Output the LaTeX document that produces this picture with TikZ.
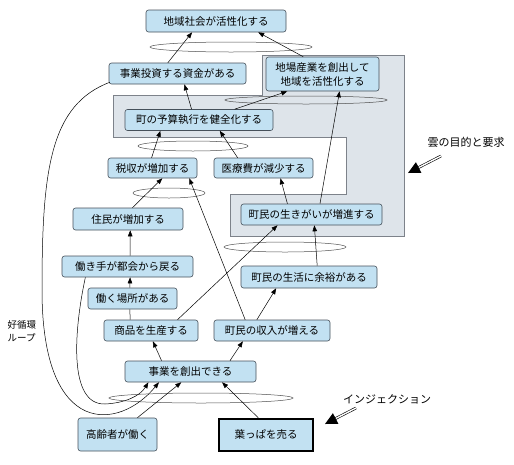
\documentclass[tikz,border=0pt]{standalone}
\usepackage{fontspec}
\setmainfont{Noto Sans CJK JP}
\usepackage{tikz}
\usetikzlibrary{calc, arrows.meta}
\usepackage{tkz-euclide}

\definecolor{boxblue}{RGB}{194,225,242}
\definecolor{boxline}{RGB}{70,80,90}
\definecolor{cloudgray}{RGB}{222,228,234}
\definecolor{cloudline}{RGB}{125,130,138}
\definecolor{ringgray}{RGB}{80,80,80}

\tikzset{
  pbox/.style={draw=boxline, fill=boxblue, rounded corners=2.5pt, inner sep=0pt,
    font=\fontsize{10.5}{14}\selectfont, align=center, line width=0.6pt},
  arr/.style={-{Triangle[length=6pt,width=4.5pt]}, line width=0.5pt},
  ring/.style={draw=ringgray, line width=0.5pt},
  region/.style={fill=cloudgray, draw=cloudline, line width=0.6pt},
  dblarr/.style={double, double distance=1.4pt, line width=0.6pt},
  note/.style={font=\fontsize{11}{13}\selectfont, inner sep=1pt}
}

\begin{document}
\begin{tikzpicture}[x=1pt, y=-1pt]
            \useasboundingbox (0,0) rectangle (514,464);
            % 雲の領域
            \tkzDefPoints{113/95/R1, 262/95/R2, 262/55/R3, 404/55/R4, 404/236/R5,
              230/236/R6, 230/194/R7, 346/194/R8, 346/137/R9, 113/137/R10}
            \draw[region] (R1) -- (R2) -- (R3) -- (R4) -- (R5) -- (R6) -- (R7) -- (R8) -- (R9) -- (R10) -- cycle;
            % AND の輪
            \draw[ring] (231,47) ellipse [x radius=81pt, y radius=5pt];
            \draw[ring] (306,100) ellipse [x radius=81pt, y radius=4pt];
            \draw[ring] (193,146) ellipse [x radius=55pt, y radius=5pt];
            \draw[ring] (169,193) ellipse [x radius=36pt, y radius=5pt];
            \draw[ring] (285,247) ellipse [x radius=61pt, y radius=5pt];
            \draw[ring] (201,398) ellipse [x radius=92pt, y radius=5pt];
            % ボックス
            \node[pbox, minimum width=140pt, minimum height=22pt] (chiiki) at (216,21) {地域社会が活性化する};
            \node[pbox, minimum width=137pt, minimum height=21pt] (shikin) at (177.5,73.5) {事業投資する資金がある};
            \node[pbox, minimum width=113pt, minimum height=34pt] (jiba) at (322.5,74) {地場産業を創出して\\地域を活性化する};
            \node[pbox, minimum width=148pt, minimum height=21pt] (yosan) at (199,120) {町の予算執行を健全化する};
            \node[pbox, minimum width=89pt, minimum height=20pt] (zeishu) at (152.5,168) {税収が増加する};
            \node[pbox, minimum width=99pt, minimum height=20pt] (iryo) at (263.5,168) {医療費が減少する};
            \node[pbox, minimum width=110pt, minimum height=22pt] (jumin) at (128,219) {住民が増加する};
            \node[pbox, minimum width=141pt, minimum height=21pt] (ikigai) at (311.5,214.5) {町民の生きがいが増進する};
            \node[pbox, minimum width=131pt, minimum height=21pt] (hatarakite) at (127.5,266.5) {働き手が都会から戻る};
            \node[pbox, minimum width=136pt, minimum height=22pt] (yoyu) at (309,277) {町民の生活に余裕がある};
            \node[pbox, minimum width=89pt, minimum height=21pt] (basho) at (132.5,298.5) {働く場所がある};
            \node[pbox, minimum width=94pt, minimum height=21pt] (shohin) at (151,330.5) {商品を生産する};
            \node[pbox, minimum width=116pt, minimum height=21pt] (shunyu) at (272,330.5) {町民の収入が増える};
            \node[pbox, minimum width=131pt, minimum height=21pt] (soshutsu) at (190.5,371.5) {事業を創出できる};
            \node[pbox, minimum width=79pt, minimum height=33pt] (koreisha) at (117.5,434.5) {高齢者が働く};
            \node[pbox, draw=black, line width=2.4pt, rounded corners=0pt, minimum width=94pt, minimum height=32pt] (happa) at (266,435) {葉っぱを売る};
            % 矢印
            \draw[arr] ($(shikin.north west)!0.43!(shikin.north east)$) -- ($(chiiki.south west)!0.33!(chiiki.south east)$);
            \draw[arr] ($(jiba.north west)!0.33!(jiba.north east)$) -- ($(chiiki.south west)!0.8!(chiiki.south east)$);
            \draw[arr] ($(yosan.north west)!0.45!(yosan.north east)$) -- ($(shikin.south west)!0.55!(shikin.south east)$);
            \draw[arr] ($(yosan.north west)!0.74!(yosan.north east)$) -- ($(jiba.south west)!0.19!(jiba.south east)$);
            \draw[arr] ($(ikigai.north west)!0.56!(ikigai.north east)$) -- ($(jiba.south west)!0.65!(jiba.south east)$);
            \draw[arr] ($(zeishu.north west)!0.49!(zeishu.north east)$) -- ($(yosan.south west)!0.24!(yosan.south east)$);
            \draw[arr] ($(iryo.north west)!0.24!(iryo.north east)$) -- ($(yosan.south west)!0.64!(yosan.south east)$);
            \draw[arr] ($(ikigai.north west)!0.33!(ikigai.north east)$) -- ($(iryo.south west)!0.67!(iryo.south east)$);
            \draw[arr] ($(jumin.north west)!0.54!(jumin.north east)$) -- ($(zeishu.south west)!0.61!(zeishu.south east)$);
            \draw[arr] ($(shunyu.north west)!0.27!(shunyu.north east)$) -- ($(zeishu.south west)!0.91!(zeishu.south east)$);
            \draw[arr] ($(hatarakite.north west)!0.52!(hatarakite.north east)$) -- ($(jumin.south west)!0.52!(jumin.south east)$);
            \draw[arr] ($(basho.north west)!0.47!(basho.north east)$) -- ($(hatarakite.south west)!0.52!(hatarakite.south east)$);
            \draw[line width=0.5pt] ($(shohin.north west)!0.28!(shohin.north east)$) -- ($(basho.south west)!0.47!(basho.south east)$);
            \draw[arr] ($(shohin.north west)!0.78!(shohin.north east)$) -- ($(ikigai.south west)!0.26!(ikigai.south east)$);
            \draw[arr] ($(shunyu.north west)!0.37!(shunyu.north east)$) -- ($(yoyu.south west)!0.26!(yoyu.south east)$);
            \draw[arr] ($(yoyu.north west)!0.56!(yoyu.north east)$) -- ($(ikigai.south west)!0.52!(ikigai.south east)$);
            \draw[arr] ($(soshutsu.north west)!0.28!(soshutsu.north east)$) -- ($(shohin.south west)!0.52!(shohin.south east)$);
            \draw[arr] ($(soshutsu.north west)!0.8!(soshutsu.north east)$) -- ($(shunyu.south west)!0.25!(shunyu.south east)$);
            \draw[arr] ($(koreisha.north west)!0.75!(koreisha.north east)$) -- ($(soshutsu.south west)!0.43!(soshutsu.south east)$);
            \draw[arr] ($(happa.north west)!0.42!(happa.north east)$) -- ($(soshutsu.south west)!0.74!(soshutsu.south east)$);
            % 好循環ループ
            \draw[arr] ([xshift=1pt,yshift=2pt]shikin.south west) .. controls (50,105) and (42,170) .. (42,290)
              .. controls (42,440) and (120,430) .. ($(soshutsu.south west)!0.26!(soshutsu.south east)$);
            \draw[arr] ($(hatarakite.south west)!0.18!(hatarakite.south east)$) .. controls (74,330) and (68,405) .. (105,404)
              .. controls (125,403) and (140,396) .. ($(soshutsu.south west)!0.18!(soshutsu.south east)$);
            % 注記
            \node[note, align=left, font=\fontsize{9.5}{13}\selectfont] (loop) at (22,331) {好循環\\ループ};
            \node[note] (kumo) at (466,142) {雲の目的と要求};
            \node[note] (inji) at (387,399) {インジェクション};
            \coordinate (kumotail) at (441,156);
            \coordinate (kumotip) at (408,173);
            \coordinate (injitail) at (356,408);
            \coordinate (injitip) at (325,424);
            \draw[dblarr, shorten >=10pt] (kumotail) -- (kumotip);
            \coordinate (kumobase) at ($(kumotip)!12pt!(kumotail)$);
            \fill (kumotip) -- ($(kumobase)!6pt!90:(kumotip)$) -- ($(kumobase)!6pt!-90:(kumotip)$) -- cycle;
            \draw[dblarr, shorten >=10pt] (injitail) -- (injitip);
            \coordinate (injibase) at ($(injitip)!12pt!(injitail)$);
            \fill (injitip) -- ($(injibase)!6pt!90:(injitip)$) -- ($(injibase)!6pt!-90:(injitip)$) -- cycle;
        \end{tikzpicture}
\end{document}
